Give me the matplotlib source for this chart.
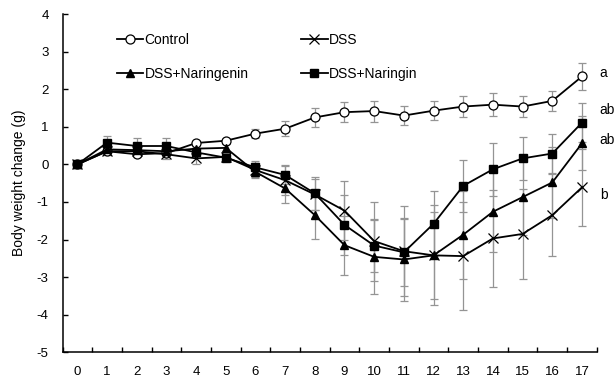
import matplotlib
matplotlib.use("Agg")
import matplotlib.pyplot as plt
import numpy as np

days = list(range(18))
control = [0, 0.35, 0.27, 0.30, 0.57, 0.63, 0.82, 0.95, 1.25, 1.39, 1.42, 1.30, 1.43, 1.54, 1.59, 1.54, 1.69, 2.34]
control_err = [0, 0.10, 0.06, 0.10, 0.06, 0.05, 0.12, 0.20, 0.25, 0.26, 0.28, 0.25, 0.26, 0.27, 0.30, 0.28, 0.27, 0.37]
dss = [0, 0.35, 0.35, 0.27, 0.16, 0.20, -0.15, -0.42, -0.80, -1.23, -2.04, -2.31, -2.42, -2.44, -1.97, -1.85, -1.35, -0.61]
dss_err = [0, 0.10, 0.10, 0.12, 0.15, 0.10, 0.18, 0.40, 0.40, 0.79, 1.05, 1.20, 1.33, 1.43, 1.28, 1.19, 1.10, 1.02]
naringenin = [0, 0.40, 0.38, 0.35, 0.42, 0.44, -0.20, -0.64, -1.35, -2.15, -2.46, -2.53, -2.42, -1.87, -1.26, -0.87, -0.48, 0.56]
naringenin_err = [0, 0.10, 0.10, 0.10, 0.10, 0.10, 0.15, 0.39, 0.63, 0.79, 0.98, 1.10, 1.15, 1.17, 1.07, 1.00, 0.95, 0.72]
naringin = [0, 0.58, 0.49, 0.49, 0.32, 0.18, -0.08, -0.28, -0.77, -1.61, -2.16, -2.34, -1.58, -0.57, -0.13, 0.16, 0.29, 1.11]
naringin_err = [0, 0.17, 0.20, 0.20, 0.10, 0.08, 0.18, 0.25, 0.44, 0.80, 0.70, 0.90, 0.86, 0.70, 0.70, 0.57, 0.51, 0.52]
x_labels = [str(d) for d in days]
letters = ["a", "ab", "ab", "b"]
letter_y = [2.44, 1.44, 0.64, -0.81]

plt.rcParams['font.family'] = ['Liberation Sans', 'DejaVu Sans']
plt.rcParams['axes.unicode_minus'] = False

fig = plt.figure(figsize=(6.14, 3.81), dpi=100)
ax = fig.add_axes([0.1018, 0.0753, 0.8702, 0.8877])

series = [
    ("Control", control, control_err, dict(marker='o', mfc='white', mec='black', ms=6.5, mew=0.9)),
    ("DSS", dss, dss_err, dict(marker='x', mec='black', ms=6.5, mew=0.9)),
    ("DSS+Naringenin", naringenin, naringenin_err, dict(marker='^', mfc='black', mec='black', ms=5.5)),
    ("DSS+Naringin", naringin, naringin_err, dict(marker='s', mfc='black', mec='black', ms=5.5)),
]

for name, vals, err, st in series:
    ax.errorbar(days, vals, yerr=err, fmt='none', ecolor='#949494', elinewidth=0.9,
                capsize=3, capthick=0.9, zorder=1)

handles = []
for name, vals, err, st in series:
    h, = ax.plot(days, vals, color='black', lw=1.3, label=name, zorder=3, **st)
    handles.append(h)

# legend order: row1 Control, DSS; row2 Naringenin, Naringin
leg = ax.legend([handles[0], handles[2], handles[1], handles[3]],
                ["Control", "DSS+Naringenin", "DSS", "DSS+Naringin"],
                ncol=2, frameon=False, loc='upper left', bbox_to_anchor=(0.078, 0.982),
                handlelength=1.9, handletextpad=0.1, columnspacing=3.8,
                labelspacing=1.45, fontsize=10)

for t, y in zip(letters, letter_y):
    ax.text(17.6, y, t, fontsize=10, va='center', ha='left', clip_on=False)

ax.set_xlim(-0.5, 17.5)
ax.set_ylim(-5, 4)
ax.set_yticks(np.arange(-5, 5, 1))
ax.set_xticks(days)
ax.set_xticklabels(x_labels)
ax.set_xticks(np.arange(-0.5, 18, 1), minor=True)
ax.tick_params(axis='x', which='major', length=0, pad=10, labelsize=9.5)
ax.tick_params(axis='x', which='minor', length=3.5, direction='in', width=1)
ax.tick_params(axis='y', length=3.5, direction='in', width=1, pad=10, labelsize=9.5)
ax.spines['top'].set_visible(False)
ax.spines['right'].set_visible(False)
ax.spines['left'].set_linewidth(1.1)
ax.spines['bottom'].set_linewidth(1.1)
ax.set_ylabel("Body weight change (g)", fontsize=10, labelpad=8)

fig.savefig("out.png", dpi=100)
